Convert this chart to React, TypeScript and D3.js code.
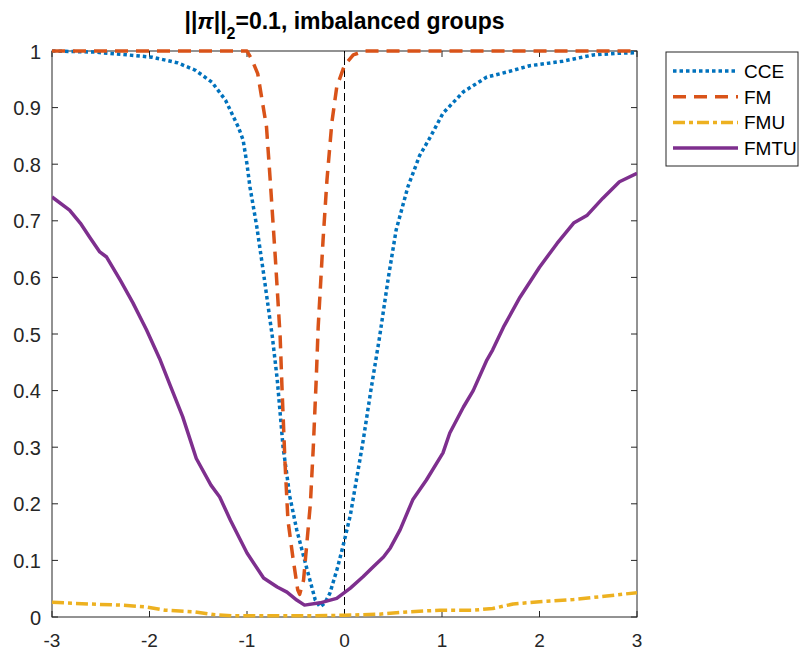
import React from "react";
import * as d3 from "d3";

// ---------- data ----------
const xTicks = [-3, -2, -1, 0, 1, 2, 3];
const yTicks = [0, 0.1, 0.2, 0.3, 0.4, 0.5, 0.6, 0.7, 0.8, 0.9, 1];
const seriesNames = ["CCE", "FM", "FMU", "FMTU"];

const cceX = [-3, -2.56, -2.22, -1.97, -1.71, -1.53, -1.36, -1.22, -1.09, -1.04, -1.0, -0.97, -0.9, -0.83, -0.74, -0.69, -0.63, -0.56, -0.49, -0.39, -0.3, -0.25, -0.2, -0.15, -0.07, 0.0, 0.06, 0.12, 0.19, 0.27, 0.36, 0.45, 0.53, 0.65, 0.77, 0.88, 1.01, 1.22, 1.46, 1.67, 1.9, 2.24, 2.55, 2.8, 3.0];
const cceY = [1.0, 0.998, 0.993, 0.989, 0.979, 0.966, 0.945, 0.913, 0.866, 0.843, 0.8, 0.76, 0.69, 0.607, 0.495, 0.42, 0.3, 0.212, 0.154, 0.088, 0.03, 0.018, 0.025, 0.042, 0.088, 0.136, 0.18, 0.24, 0.31, 0.4, 0.495, 0.6, 0.684, 0.76, 0.815, 0.848, 0.89, 0.928, 0.954, 0.963, 0.974, 0.982, 0.993, 0.996, 0.997];

const fmX = [-3, -1.0, -0.95, -0.89, -0.8, -0.76, -0.71, -0.66, -0.64, -0.61, -0.58, -0.53, -0.48, -0.46, -0.42, -0.35, -0.32, -0.29, -0.27, -0.22, -0.18, -0.13, -0.08, 0.0, 0.09, 0.2, 3.0];
const fmY = [1, 1, 0.985, 0.96, 0.866, 0.767, 0.636, 0.495, 0.4, 0.272, 0.171, 0.106, 0.048, 0.04, 0.065, 0.2, 0.3, 0.42, 0.512, 0.666, 0.772, 0.873, 0.936, 0.975, 0.993, 1.0, 1.0];

const fmuX = [-3, -2.63, -2.28, -2.05, -1.84, -1.53, -1.33, -1.15, -0.5, 0, 0.36, 0.64, 0.98, 1.32, 1.52, 1.73, 2.0, 2.35, 2.69, 3.0];
const fmuY = [0.026, 0.023, 0.021, 0.018, 0.012, 0.009, 0.004, 0.002, 0.002, 0.003, 0.005, 0.009, 0.012, 0.012, 0.015, 0.023, 0.027, 0.031, 0.037, 0.043];

const fmtuX = [-3, -2.82, -2.71, -2.61, -2.51, -2.44, -2.3, -2.17, -2.03, -1.89, -1.79, -1.66, -1.52, -1.37, -1.28, -1.17, -1.0, -0.83, -0.69, -0.59, -0.49, -0.41, -0.25, -0.08, 0.06, 0.19, 0.29, 0.4, 0.47, 0.57, 0.7, 0.84, 1.01, 1.08, 1.22, 1.32, 1.46, 1.52, 1.63, 1.8, 2.0, 2.18, 2.35, 2.49, 2.65, 2.82, 3.0];
const fmtuY = [0.742, 0.719, 0.696, 0.67, 0.645, 0.636, 0.595, 0.555, 0.507, 0.454, 0.41, 0.354, 0.28, 0.233, 0.212, 0.171, 0.113, 0.069, 0.053, 0.044, 0.03, 0.021, 0.025, 0.033, 0.051, 0.071, 0.088, 0.106, 0.122, 0.154, 0.207, 0.242, 0.29, 0.325, 0.371, 0.4, 0.454, 0.472, 0.512, 0.565, 0.618, 0.66, 0.696, 0.71, 0.74, 0.769, 0.784];

// ---------- layout / style ----------
const W = 799, H = 651;
const M = { left: 52, right: 637, top: 51, bottom: 617 };
const FONT = "'Liberation Sans', Arial, Helvetica, sans-serif";
const AX = "#262626";

const styles = [
  { color: "#0072BD", dash: "3.5,3", width: 3.5 },
  { color: "#D95319", dash: "13,8", width: 3.5 },
  { color: "#EDB120", dash: "12,4,4,4", width: 3.5 },
  { color: "#7E2F8E", dash: "none", width: 3.5 },
];

export default function App() {
  const x = d3.scaleLinear().domain([-3, 3]).range([M.left, M.right]);
  const y = d3.scaleLinear().domain([0, 1]).range([M.bottom, M.top]);
  const line = d3
    .line<[number, number]>()
    .x((d) => x(d[0]))
    .y((d) => y(d[1]));

  const series: [number, number][][] = [
    cceX.map((v, i) => [v, cceY[i]] as [number, number]),
    fmX.map((v, i) => [v, fmY[i]] as [number, number]),
    fmuX.map((v, i) => [v, fmuY[i]] as [number, number]),
    fmtuX.map((v, i) => [v, fmtuY[i]] as [number, number]),
  ];

  const tickLen = 6;
  const legend = { x: 666, y: 52, w: 132, h: 114 };

  return (
    <svg
      width={W}
      height={H}
      style={{ position: "absolute", left: 0, top: 0, background: "#fff" }}
      fontFamily={FONT}
    >
      <defs>
        <clipPath id="plotClip">
          <rect x={M.left} y={M.top - 2} width={M.right - M.left} height={M.bottom - M.top + 4} />
        </clipPath>
      </defs>
      <rect x={0} y={0} width={W} height={H} fill="#fff" />

      {/* ticks */}
      {xTicks.map((t) => (
        <g key={"xt" + t}>
          <line x1={x(t)} x2={x(t)} y1={M.bottom} y2={M.bottom - tickLen} stroke={AX} strokeWidth={1} />
          <line x1={x(t)} x2={x(t)} y1={M.top} y2={M.top + tickLen} stroke={AX} strokeWidth={1} />
          <text x={x(t)} y={M.bottom + 30} textAnchor="middle" fontSize={19} fill={AX}>
            {t < 0 ? "-" + Math.abs(t) : String(t)}
          </text>
        </g>
      ))}
      {yTicks.map((t) => (
        <g key={"yt" + t}>
          <line x1={M.left} x2={M.left + tickLen} y1={y(t)} y2={y(t)} stroke={AX} strokeWidth={1} />
          <line x1={M.right} x2={M.right - tickLen} y1={y(t)} y2={y(t)} stroke={AX} strokeWidth={1} />
          <text x={M.left - 11} y={y(t)} dy="0.38em" textAnchor="end" fontSize={20} fill={AX}>
            {d3.format("~g")(t)}
          </text>
        </g>
      ))}

      {/* box */}
      <rect
        x={M.left}
        y={M.top}
        width={M.right - M.left}
        height={M.bottom - M.top}
        fill="none"
        stroke={AX}
        strokeWidth={1}
      />

      {/* zero reference */}
      <line x1={x(0)} x2={x(0)} y1={y(0)} y2={y(1)} stroke="#000" strokeWidth={1} strokeDasharray="8,4" />

      {/* series */}
      <g clipPath="url(#plotClip)">
        {series.map((s, i) => (
          <path
            key={seriesNames[i]}
            d={line(s) || ""}
            fill="none"
            stroke={styles[i].color}
            strokeWidth={styles[i].width}
            strokeDasharray={styles[i].dash}
            strokeLinejoin="round"
          />
        ))}
      </g>

      {/* title */}
      <text x={(M.left + M.right) / 2} y={29} textAnchor="middle" fontSize={23} fontWeight="bold" fill="#000">
        <tspan>||</tspan>
        <tspan fontStyle="italic">π</tspan>
        <tspan>||</tspan>
        <tspan dy={10} fontSize={16}>2</tspan>
        <tspan dy={-10}>=0.1, imbalanced groups</tspan>
      </text>

      {/* legend */}
      <rect x={legend.x} y={legend.y} width={legend.w} height={legend.h} fill="#fff" stroke={AX} strokeWidth={1} />
      {seriesNames.map((n, i) => {
        const ly = 71 + i * 25.7;
        return (
          <g key={"lg" + n}>
            <line
              x1={673}
              x2={738}
              y1={ly}
              y2={ly}
              stroke={styles[i].color}
              strokeWidth={styles[i].width}
              strokeDasharray={styles[i].dash}
            />
            <text x={744} y={ly} dy="0.36em" fontSize={19} fill="#000">
              {n}
            </text>
          </g>
        );
      })}
    </svg>
  );
}
